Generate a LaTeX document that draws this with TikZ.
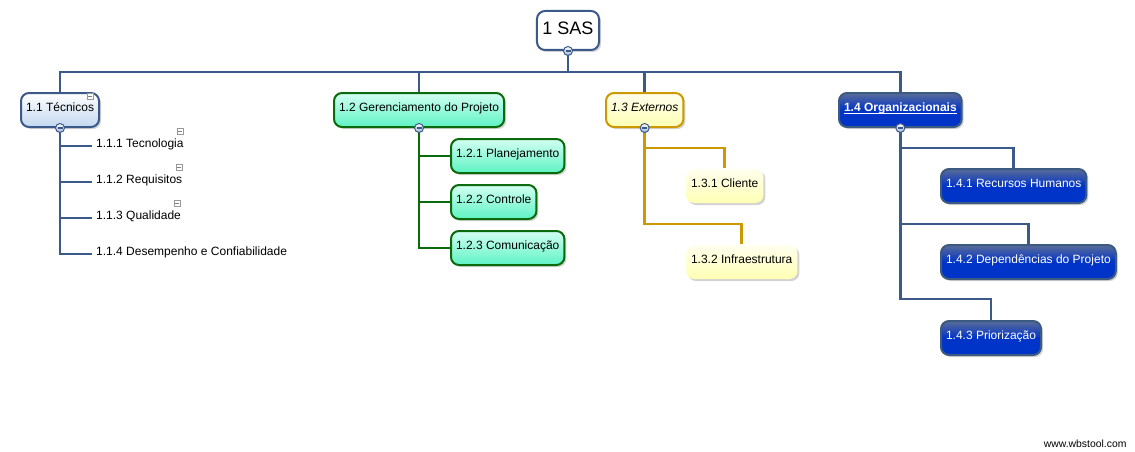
\documentclass[tikz,border=0pt]{standalone}
\usepackage{fontspec}
\setmainfont{Liberation Sans}
\usetikzlibrary{shadows}

\definecolor{wbsblue}{HTML}{3B5A8A}
\definecolor{tecfill}{HTML}{C4D8F0}
\definecolor{gergreen}{HTML}{0B6A0B}
\definecolor{gertop}{HTML}{D2FFF1}
\definecolor{gerfill}{HTML}{5EF3C4}
\definecolor{extgold}{HTML}{CC9A00}
\definecolor{exttop}{HTML}{FFFFEE}
\definecolor{extfill}{HTML}{FFFFB4}
\definecolor{orgedge}{HTML}{3D5A80}
\definecolor{orgtop}{HTML}{5A6C98}
\definecolor{orgfill}{HTML}{0033C8}

\begin{document}
\begin{tikzpicture}[x=1pt,y=-1pt]
       \tikzstyle{task}=[rounded corners=8pt, line width=2pt, minimum height=34pt,
              inner xsep=5pt, text height=9pt, text depth=6pt, anchor=west,
              font=\fontsize{12}{14}\selectfont,
              drop shadow={shadow xshift=2pt,shadow yshift=-2pt,opacity=0.35}]
       \tikzstyle{rootbox}=[task, draw=wbsblue, fill=white, minimum height=39pt,
              inner xsep=5.5pt, text height=13pt, text depth=4pt, anchor=center,
              font=\fontsize{18}{20}\selectfont]
       \tikzstyle{tec}=[task, draw=wbsblue, top color=white, bottom color=tecfill]
       \tikzstyle{tecsub}=[inner xsep=4pt, text height=9pt, text depth=6pt,
              anchor=west, font=\fontsize{12}{14}\selectfont]
       \tikzstyle{ger}=[task, draw=gergreen, top color=gertop, bottom color=gerfill]
       \tikzstyle{ext}=[task, draw=extgold, top color=exttop, bottom color=extfill]
       \tikzstyle{extsub}=[task, draw=none, top color=exttop, bottom color=extfill]
       \tikzstyle{org}=[task, draw=orgedge, top color=orgtop, bottom color=orgfill,
              middle color=orgfill, text=white]
       \tikzstyle{link}=[line width=2.7pt, wbsblue]
       \tikzstyle{glink}=[line width=2.7pt, gergreen]
       \tikzstyle{ylink}=[line width=2.7pt, extgold]
       \tikzstyle{collapser}=[circle, draw=wbsblue, line width=1pt, inner sep=0pt,
              minimum size=9pt, top color=white, bottom color=tecfill!70!wbsblue,
              text=wbsblue]
       \tikzstyle{notebox}=[draw=gray!80, line width=0.6pt, fill=white, inner sep=0pt,
              minimum size=6pt, text=gray]

       \useasboundingbox (0,0) rectangle (1135,452);

       % top level
       \node[rootbox] (root) at (568,30.5) {1 SAS};
       \node[tec] (t11) at (20,110) {1.1 Técnicos};
       \node[ger] (t12) at (333,110) {1.2 Gerenciamento do Projeto};
       \node[ext] (t13) at (605,110) {\itshape 1.3 Externos};
       \node[org] (t14) at (838,110) {\underline{\smash{\bfseries 1.4 Organizacionais}}};

       % 1.1
       \node[tecsub] (t111) at (92,146) {1.1.1 Tecnologia};
       \node[tecsub] (t112) at (92,182) {1.1.2 Requisitos};
       \node[tecsub] (t113) at (92,218) {1.1.3 Qualidade};
       \node[tecsub] (t114) at (92,254) {1.1.4 Desempenho e Confiabilidade};

       % 1.2
       \node[ger] (t121) at (450,156) {1.2.1 Planejamento};
       \node[ger] (t122) at (450,202) {1.2.2 Controle};
       \node[ger] (t123) at (450,248) {1.2.3 Comunicação};

       % 1.3
       \node[extsub] (t131) at (685,186) {1.3.1 Cliente};
       \node[extsub] (t132) at (685,262) {1.3.2 Infraestrutura};

       % 1.4
       \node[org] (t141) at (940,186) {1.4.1 Recursos Humanos};
       \node[org] (t142) at (940,262) {1.4.2 Dependências do Projeto};
       \node[org] (t143) at (940,338) {1.4.3 Priorização};

       \foreach \n in {t11,t12,t13,t14}
              \draw[link] (root.south) -- ++(0,21) -| (\n.north);

       \foreach \n in {t111,t112,t113,t114}
              \draw[link] (t11.south) |- (\n.west);
       \foreach \n in {t121,t122,t123}
              \draw[glink] (t12.south) |- (\n.west);

       \draw[ylink] (t13.south) -- ++(0,20) -| (t131.north);
       \draw[ylink] (t132.north) -- ++(0,-20) -| (t13.south);

       \draw[link] (t14.south) -- ++(0,20) -| (t141.north);
       \draw[link] (t142.north) -- ++(0,-20) -| (t14.south);
       \draw[link] (t143.north) -- ++(0,-21) -| (t14.south);

       \foreach \n in {root,t11,t12,t13,t14}
              \node[collapser] at (\n.south) {\rule{5pt}{1.6pt}};

       \foreach \x/\y in {90/96, 180/131, 179/167, 177/203}
              \node[notebox] at (\x,\y) {\rule{3.5pt}{0.6pt}};

       \node[anchor=east, font=\fontsize{10.4}{12}\selectfont] (site) at (1130,444) {www.wbstool.com};
\end{tikzpicture}
\end{document}
